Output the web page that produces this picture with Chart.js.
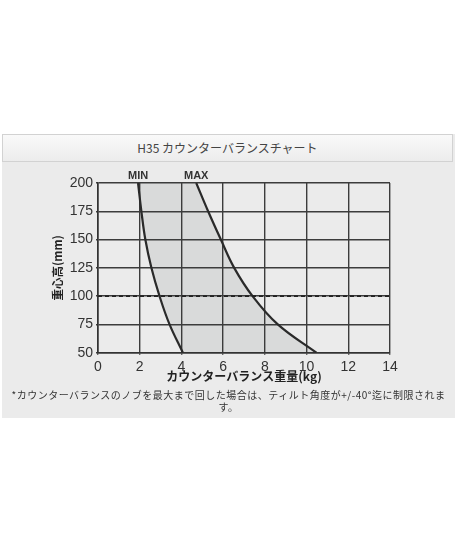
<!DOCTYPE html>
<html>
<head>
<meta charset="utf-8">
<script src="https://cdn.jsdelivr.net/npm/chart.js@4.4.1/dist/chart.umd.min.js"></script>
<style>
    body { margin: 0; background: #fff; width: 460px; height: 552px; position: relative; font-family: "Noto Sans CJK JP", "Liberation Sans", sans-serif; }
    #panel { position: absolute; left: 2px; top: 134px; width: 453px; height: 284px; background: #ebebeb; }
    #header { position: absolute; left: 0; top: 0; width: 449px; height: 26px; border: 1px solid #d2d2d2; background: linear-gradient(#f9f9f9, #ececec); text-align: center; line-height: 26px; font-size: 12px; color: #444; }
    #chart-wrap { position: absolute; left: -2px; top: 28px; width: 460px; height: 230px; }
    #note { position: absolute; left: 0; top: 255px; width: 453px; text-align: center; font-size: 10px; line-height: 12px; color: #333; letter-spacing: 0.5px; }
</style>
</head>
<body>
<div id="panel">
    <div id="header">H35 カウンターバランスチャート</div>
    <div id="chart-wrap"><canvas id="balance-chart" width="460" height="230"></canvas></div>
    <div id="note">*カウンターバランスのノブを最大まで回した場合は、ティルト角度が+/-40°迄に制限されま<br>す。</div>
</div>
<script>
// Data
const heights = [200, 175, 150, 125, 100, 75, 50];
const minWeights = [1.92, 2.08, 2.27, 2.56, 2.95, 3.43, 4.07];
const maxWeights = [4.71, 5.28, 5.89, 6.53, 7.41, 8.62, 10.47];
const refHeight = [100, 100];
const refWeights = [0, 14];
const curveLabels = ['MIN', 'MAX'];
const xRange = [0, 14, 2];
const yRange = [50, 200, 25];

function toPoints(xs, ys) {
    return xs.map((x, i) => ({ x: x, y: ys[i] }));
}

// Shaded band between the MIN and MAX curves, under the grid
const bandPlugin = {
    id: 'band',
    beforeDraw(chart) {
        const minPts = chart.getDatasetMeta(1).data;
        const maxPts = chart.getDatasetMeta(2).data;
        const area = chart.chartArea;
        const ctx = chart.ctx;
        ctx.save();
        ctx.beginPath();
        ctx.rect(area.left, area.top, area.right - area.left, area.bottom - area.top);
        ctx.clip();
        ctx.beginPath();
        ctx.moveTo(minPts[0].x, minPts[0].y);
        for (let i = 1; i < minPts.length; i++) {
            const a = minPts[i - 1], b = minPts[i];
            ctx.bezierCurveTo(a.cp2x, a.cp2y, b.cp1x, b.cp1y, b.x, b.y);
        }
        const last = maxPts.length - 1;
        ctx.lineTo(maxPts[last].x, maxPts[last].y);
        for (let i = last; i > 0; i--) {
            const a = maxPts[i], b = maxPts[i - 1];
            ctx.bezierCurveTo(a.cp1x, a.cp1y, b.cp2x, b.cp2y, b.x, b.y);
        }
        ctx.closePath();
        ctx.fillStyle = '#d9dada';
        ctx.fill();
        ctx.restore();
    }
};

// MIN / MAX labels above the top of each curve
const curveLabelPlugin = {
    id: 'curveLabels',
    afterDraw(chart) {
        const ctx = chart.ctx;
        const xScale = chart.scales.x;
        const top = chart.chartArea.top;
        ctx.save();
        ctx.font = 'bold 11px "Liberation Sans", Arial, sans-serif';
        ctx.fillStyle = '#333';
        ctx.textAlign = 'center';
        ctx.textBaseline = 'middle';
        [minWeights, maxWeights].forEach((w, i) => {
            ctx.fillText(curveLabels[i], xScale.getPixelForValue(w[0]), top - 7);
        });
        ctx.restore();
    }
};

document.addEventListener('DOMContentLoaded', () => {
    const ctx = document.getElementById('balance-chart').getContext('2d');
    new Chart(ctx, {
        type: 'line',
        data: {
            datasets: [{
                data: toPoints(refWeights, refHeight),
                borderColor: '#222',
                borderWidth: 1.6,
                borderDash: [4, 3],
                pointRadius: 0,
                fill: false,
            }, {
                label: curveLabels[0],
                data: toPoints(minWeights, heights),
                borderColor: '#2a2a2a',
                borderWidth: 2.2,
                pointRadius: 0,
                tension: 0.4,
                fill: false,
            }, {
                label: curveLabels[1],
                data: toPoints(maxWeights, heights),
                borderColor: '#2a2a2a',
                borderWidth: 2.2,
                pointRadius: 0,
                tension: 0.4,
                fill: false,
            }],
        },
        options: {
            responsive: false,
            animation: false,
            devicePixelRatio: 1,
            layout: { padding: { left: 0, right: 70, top: 21, bottom: 0 } },
            plugins: {
                legend: { display: false },
                tooltip: { enabled: false },
            },
            scales: {
                x: {
                    type: 'linear',
                    min: xRange[0],
                    max: xRange[1],
                    afterFit: scale => { scale.height = 39.3; },
                    ticks: { stepSize: xRange[2], color: '#333', padding: 4, maxRotation: 0, font: { size: 14, family: '"Liberation Sans", Arial, sans-serif' } },
                    grid: { color: '#3c3c3c', lineWidth: 1.4, tickLength: 2 },
                    border: { color: '#333', width: 1.6 },
                    title: {
                        display: true,
                        text: 'カウンターバランス重量(kg)',
                        color: '#222',
                        font: { size: 12, weight: 'bold', family: '"Noto Sans CJK JP", sans-serif' },
                        padding: { top: 0, bottom: 8 },
                    },
                },
                y: {
                    type: 'linear',
                    min: yRange[0],
                    max: yRange[1],
                    afterFit: scale => { scale.width = 98; },
                    ticks: { stepSize: yRange[2], color: '#333', padding: 3, font: { size: 14, family: '"Liberation Sans", Arial, sans-serif' } },
                    grid: { color: '#3c3c3c', lineWidth: 1.4, tickLength: 2 },
                    border: { color: '#333', width: 1.6 },
                    title: {
                        display: true,
                        text: '重心高(mm)',
                        color: '#222',
                        font: { size: 11.5, weight: 'bold', family: '"Noto Sans CJK JP", sans-serif' },
                        padding: { top: 51, bottom: 0 },
                    },
                },
            },
        },
        plugins: [bandPlugin, curveLabelPlugin],
    });
});
</script>
</body>
</html>
